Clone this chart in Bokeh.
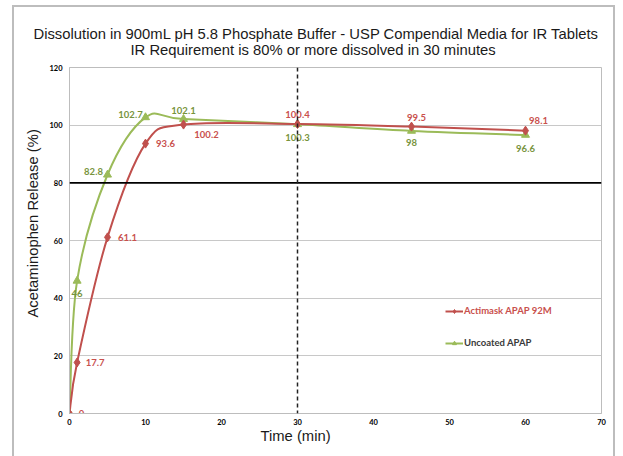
from bokeh.plotting import figure
from bokeh.models import (ColumnDataSource, Span, Title, Legend, LegendItem,
                          FixedTicker, Range1d)
from bokeh.core.properties import value
from bokeh.embed import file_html
from bokeh.resources import INLINE

# ---------------- data ----------------
time_min = [0, 1, 5, 10, 15, 30, 45, 60]
actimask = [0, 17.7, 61.1, 93.6, 100.2, 100.4, 99.5, 98.1]
uncoated = [0, 46, 82.8, 102.7, 102.1, 100.3, 98, 96.6]
y_ticks = [0, 20, 40, 60, 80, 100, 120]
x_ticks = [0, 10, 20, 30, 40, 50, 60, 70]
requirement_pct = 80
requirement_time = 30
series_names = ["Actimask APAP 92M", "Uncoated APAP"]
title_lines = ["Dissolution in 900mL pH 5.8 Phosphate Buffer - USP Compendial Media for IR Tablets",
               "IR Requirement is 80% or more dissolved in 30 minutes"]
x_title = "Time (min)"
y_title = "Acetaminophen Release (%)"

# label offsets (screen px) – styling only
red_dx = [12, 18, 20, 20, 23, 0, 5, 13]
red_dy = [0, 0, 0, 0, 10, -10, -9, -10]
grn_dx = [0, 0, -14, -15, 0, 0, 0, 0]
grn_dy = [0, 13, -3, -3, -9, 13, 12, 14]

RED = "#C0504D"
GREEN = "#9BBB59"
RED_TXT = "#C9504D"
GREEN_TXT = "#77933C"
GRID = "#C8C8C8"
FRAME = "#BDBDBD"

LBL_FONT = "Lato"
TTL_FONT = "Liberation Sans"
TTL_SIZE = "14.8px"


def smooth_bezier(xs, ys):
    """Bezier segments (Catmull-Rom style, like a spreadsheet 'smoothed line')."""
    n = len(xs)
    out = dict(x0=[], y0=[], x1=[], y1=[], cx0=[], cy0=[], cx1=[], cy1=[])
    for i in range(n - 1):
        p0 = (xs[max(i - 1, 0)], ys[max(i - 1, 0)])
        p1 = (xs[i], ys[i])
        p2 = (xs[i + 1], ys[i + 1])
        p3 = (xs[min(i + 2, n - 1)], ys[min(i + 2, n - 1)])
        out["x0"].append(p1[0]); out["y0"].append(p1[1])
        out["x1"].append(p2[0]); out["y1"].append(p2[1])
        out["cx0"].append(p1[0] + (p2[0] - p0[0]) / 6.0)
        out["cy0"].append(p1[1] + (p2[1] - p0[1]) / 6.0)
        out["cx1"].append(p2[0] - (p3[0] - p1[0]) / 6.0)
        out["cy1"].append(p2[1] - (p3[1] - p1[1]) / 6.0)
    return out


p = figure(width=623, height=456, output_backend="svg", toolbar_location=None,
           x_range=Range1d(0, 70), y_range=Range1d(0, 120),
           min_border_left=69, min_border_right=22, min_border_top=67,
           min_border_bottom=43, title=None)
# outer chart-area frame (page background behind a transparent border area)
bar = "linear-gradient(%s,%s)" % (FRAME, FRAME)
p.styles = {"background": (f"{bar} 12px 5px / 2px 460px no-repeat, "
                           f"{bar} 12px 5px / 603px 2px no-repeat, "
                           f"{bar} 613px 5px / 2px 460px no-repeat, #FFFFFF")}

p.background_fill_color = "white"
p.border_fill_color = None
p.outline_line_color = FRAME
p.outline_line_width = 1

# grid
p.xgrid.visible = False
p.ygrid.ticker = FixedTicker(ticks=y_ticks)
p.ygrid.grid_line_color = GRID
p.ygrid.grid_line_width = 1

# axes
for ax in (p.xaxis[0], p.yaxis[0]):
    ax.axis_line_color = FRAME
    ax.major_tick_line_color = None
    ax.minor_tick_line_color = None
    ax.major_tick_out = 0
    ax.major_tick_in = 0
    ax.minor_tick_out = 0
    ax.major_label_text_font = LBL_FONT
    ax.major_label_text_font_style = "bold"
    ax.major_label_text_font_size = "7.5px"
    ax.major_label_text_color = "#000000"
p.xaxis.ticker = FixedTicker(ticks=x_ticks)
p.yaxis.ticker = FixedTicker(ticks=y_ticks)
p.xaxis.major_label_standoff = 5
p.yaxis.major_label_standoff = 7

# requirement lines
p.add_layout(Span(location=requirement_pct, dimension="width", line_color="black",
                  line_width=1.8))
p.add_layout(Span(location=requirement_time, dimension="height", line_color="#222222",
                  line_width=1.5, line_dash="4 3"))

# curves
red_bz = ColumnDataSource(smooth_bezier(time_min, actimask))
grn_bz = ColumnDataSource(smooth_bezier(time_min, uncoated))
p.bezier(x0="x0", y0="y0", x1="x1", y1="y1", cx0="cx0", cy0="cy0", cx1="cx1", cy1="cy1",
         source=grn_bz, line_color=GREEN, line_width=2)
p.bezier(x0="x0", y0="y0", x1="x1", y1="y1", cx0="cx0", cy0="cy0", cx1="cx1", cy1="cy1",
         source=red_bz, line_color=RED, line_width=2)

grn_src = ColumnDataSource(dict(x=time_min, y=uncoated))
red_src = ColumnDataSource(dict(x=time_min, y=actimask,
                                t=[f"{v:g}" for v in actimask], dx=red_dx, dy=red_dy))

g_mark = p.scatter("x", "y", source=grn_src, marker="triangle", size=8, fill_color=GREEN,
                   line_color=GREEN)
r_mark = p.scatter("x", "y", source=red_src, marker="diamond", size=9, fill_color=RED,
                   line_color=RED)

grn_lbl = ColumnDataSource(dict(x=time_min[1:], y=uncoated[1:],
                                t=[f"{v:g}" for v in uncoated[1:]],
                                dx=grn_dx[1:], dy=grn_dy[1:]))
p.text("x", "y", text="t", source=grn_lbl, x_offset="dx", y_offset="dy",
       text_align="center", text_baseline="middle", text_color=GREEN_TXT,
       text_font=value(LBL_FONT), text_font_style="bold", text_font_size="9.5px")
p.text("x", "y", text="t", source=red_src, x_offset="dx", y_offset="dy",
       text_align="center", text_baseline="middle", text_color=RED_TXT,
       text_font=value(LBL_FONT), text_font_style="bold", text_font_size="9.5px")

# legend sample lines (single-point lines draw nothing on the plot)
r_line = p.line(x=time_min[:1], y=actimask[:1], line_color=RED, line_width=2)
g_line = p.line(x=time_min[:1], y=uncoated[:1], line_color=GREEN, line_width=2)

for items, loc, col in (([LegendItem(label=series_names[0], renderers=[r_line, r_mark], index=0)],
                         (376, 97), RED_TXT),
                        ([LegendItem(label=series_names[1], renderers=[g_line, g_mark], index=0)],
                         (376, 65), "#3A3A3A")):
    lg = Legend(items=items, location=loc, glyph_width=18, glyph_height=10,
                label_height=10, label_standoff=1, padding=0, margin=0, spacing=0,
                border_line_color=None, background_fill_alpha=0,
                label_text_font=LBL_FONT, label_text_font_style="bold",
                label_text_font_size="9.5px", label_text_color=col,
                label_text_baseline="middle")
    p.add_layout(lg, "center")

# titles (line 2 nearest the frame)
p.add_layout(Title(text=title_lines[1], align="left", offset=61, standoff=15,
                   vertical_align="top", text_font=TTL_FONT, text_font_style="normal",
                   text_font_size=TTL_SIZE, text_color="#1A1A1A"), "above")
p.add_layout(Title(text=title_lines[0], align="left", offset=-36, standoff=-15,
                   vertical_align="bottom", text_font=TTL_FONT, text_font_style="normal",
                   text_font_size=TTL_SIZE, text_color="#1A1A1A"), "above")
# axis titles
p.add_layout(Title(text=y_title, align="left", offset=96, standoff=9,
                   vertical_align="middle", text_font=TTL_FONT, text_font_style="normal",
                   text_font_size=TTL_SIZE, text_color="#1A1A1A"), "left")
p.add_layout(Title(text=x_title, align="left", offset=191, standoff=0,
                   vertical_align="top", text_font=TTL_FONT, text_font_style="normal",
                   text_font_size=TTL_SIZE, text_color="#1A1A1A"), "below")

open("out.html", "w").write(file_html(p, INLINE))
